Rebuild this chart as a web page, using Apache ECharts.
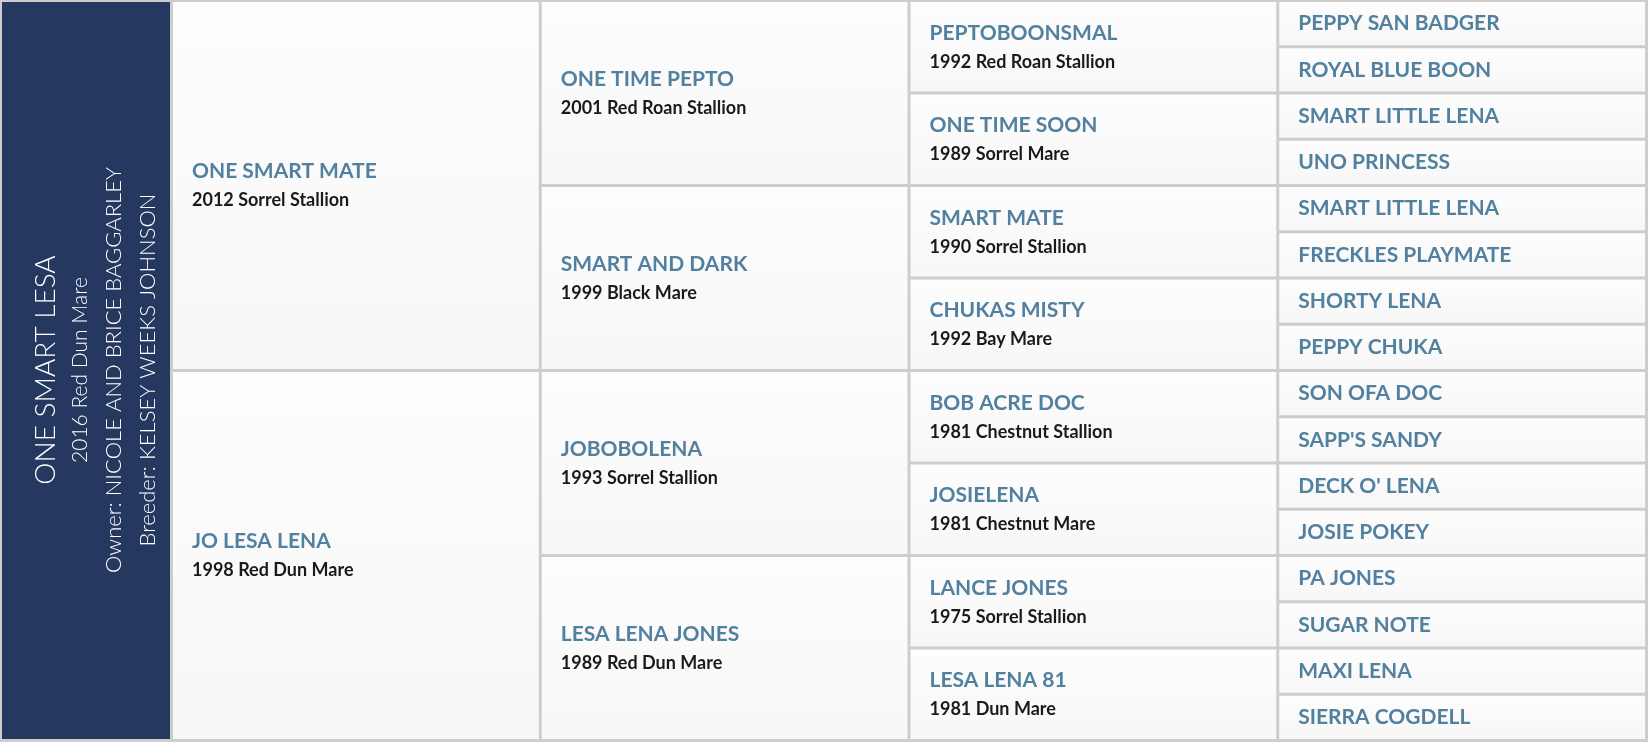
<!DOCTYPE html>
<html>
<head>
<meta charset="utf-8">
<script src="https://cdn.jsdelivr.net/npm/echarts@6/dist/echarts.min.js"></script>
<style>
  html, body { margin: 0; padding: 0; background: #ffffff; }
  #chart { width: 1648px; height: 746px; }
</style>
</head>
<body>
<div id="chart"></div>
<script>
const subject = ["ONE SMART LESA", "2016 Red Dun Mare", "Owner: NICOLE AND BRICE BAGGARLEY", "Breeder: KELSEY WEEKS JOHNSON"];

const gen1Names = ["ONE SMART MATE", "JO LESA LENA"];
const gen1Info = ["2012 Sorrel Stallion", "1998 Red Dun Mare"];

const gen2Names = ["ONE TIME PEPTO", "SMART AND DARK", "JOBOBOLENA", "LESA LENA JONES"];
const gen2Info = ["2001 Red Roan Stallion", "1999 Black Mare", "1993 Sorrel Stallion", "1989 Red Dun Mare"];

const gen3Names = ["PEPTOBOONSMAL", "ONE TIME SOON", "SMART MATE", "CHUKAS MISTY", "BOB ACRE DOC", "JOSIELENA", "LANCE JONES", "LESA LENA 81"];
const gen3Info = ["1992 Red Roan Stallion", "1989 Sorrel Mare", "1990 Sorrel Stallion", "1992 Bay Mare", "1981 Chestnut Stallion", "1981 Chestnut Mare", "1975 Sorrel Stallion", "1981 Dun Mare"];

const gen4Names = ["PEPPY SAN BADGER", "ROYAL BLUE BOON", "SMART LITTLE LENA", "UNO PRINCESS", "SMART LITTLE LENA", "FRECKLES PLAYMATE", "SHORTY LENA", "PEPPY CHUKA", "SON OFA DOC", "SAPP'S SANDY", "DECK O' LENA", "JOSIE POKEY", "PA JONES", "SUGAR NOTE", "MAXI LENA", "SIERRA COGDELL"];

const generations = [[gen1Names, gen1Info], [gen2Names, gen2Info], [gen3Names, gen3Info], [gen4Names, []]];
const ROWS = 16;

// [column, firstRow, rowSpan, name, info]
const cells = [];
generations.forEach(([names, info], col) => {
  const span = ROWS / names.length;
  names.forEach((name, i) => cells.push([col, i * span, span, name, info[i] || ""]));
});

const NAME_COLOR = "#52809f";
const FONT = "Lato, 'Noto Sans', sans-serif";

function renderCell(params, api) {
  const col = api.value(0), r0 = api.value(1), span = api.value(2);
  const name = cells[params.dataIndex][3];
  const info = cells[params.dataIndex][4];
  const tl = api.coord([col, r0]);
  const br = api.coord([col + 1, r0 + span]);
  const x = tl[0] + 1.5, y = tl[1] + 1.5, w = br[0] - tl[0] - 3, h = br[1] - tl[1] - 3;
  const cy = y + h / 2;
  const children = [{
    type: "rect",
    shape: { x, y, width: w, height: h },
    style: { fill: new echarts.graphic.LinearGradient(0, 0, 0, 1, [{ offset: 0, color: "#fdfdfd" }, { offset: 1, color: "#f7f7f7" }]) }
  }];
  children.push({
    type: "text",
    style: {
      x: x + 19, y: info ? cy - 14 : cy, text: name,
      fill: NAME_COLOR, font: "bold 21px " + FONT, textVerticalAlign: "middle"
    }
  });
  if (info) {
    children.push({
      type: "text",
      style: {
        x: x + 19, y: cy + 15, text: info,
        fill: "#1a1a1a", font: "bold 18px " + FONT, textVerticalAlign: "middle"
      }
    });
  }
  return { type: "group", children };
}

const chart = echarts.init(document.getElementById("chart"));
const panelCx = 85, panelCy = 370;
const lineX = [46, 80, 114, 148];
const lineFont = ["300 28px " + FONT, "300 21px " + FONT, "300 22px " + FONT, "300 22px " + FONT];

chart.setOption({
  animation: false,
  backgroundColor: "#ffffff",
  graphic: [
    { type: "rect", z: -10, shape: { x: 0, y: 0, width: 1648, height: 742 }, style: { fill: "#cdcdcd" } },
    { type: "rect", z: 10, shape: { x: 2, y: 2, width: 168, height: 737 }, style: { fill: "#243860" } }
  ].concat(subject.map((t, i) => ({
    type: "text", z: 11, x: lineX[i], y: panelCy, rotation: Math.PI / 2,
    style: { text: t, fill: "#ffffff", font: lineFont[i], textAlign: "center", textVerticalAlign: "middle" }
  }))),
  grid: { left: 171.5, right: 1.5, top: 0.5, bottom: 5.5 },
  xAxis: { type: "value", min: 0, max: 4, show: false },
  yAxis: { type: "value", min: 0, max: ROWS, inverse: true, show: false },
  series: [{
    type: "custom",
    renderItem: renderCell,
    data: cells.map((c) => [c[0], c[1], c[2]]),
    silent: true
  }]
});
</script>
</body>
</html>
